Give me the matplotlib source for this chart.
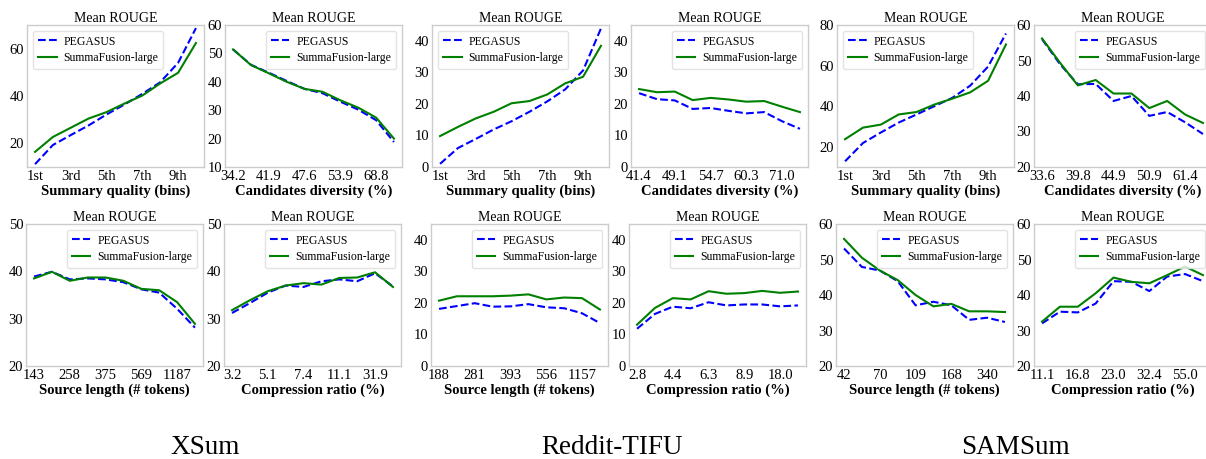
import matplotlib
matplotlib.use("Agg")
import matplotlib.pyplot as plt

plt.rcParams['font.family'] = ['Liberation Serif', 'DejaVu Serif']

W, H = 1206, 459

# ---------------- data ----------------
idx = list(range(10))

# XSum
xsum_quality_peg = [11.2, 19.3, 23.5, 27.6, 32.2, 36.4, 40.9, 45.8, 54.0, 68.7]
xsum_quality_sf = [16.4, 22.7, 26.6, 30.5, 33.2, 36.8, 40.2, 45.3, 49.8, 62.4]
xsum_div_peg = [51.4, 46.0, 43.2, 40.3, 37.5, 36.0, 33.0, 30.2, 26.5, 18.8]
xsum_div_sf = [51.4, 45.9, 43.0, 40.0, 37.5, 36.5, 33.5, 30.9, 27.4, 20.0]
xsum_len_peg = [38.9, 39.9, 38.3, 38.5, 38.3, 37.7, 36.2, 35.5, 32.1, 28.1]
xsum_len_sf = [38.5, 39.9, 38.0, 38.7, 38.7, 38.0, 36.3, 36.0, 33.5, 28.9]
xsum_comp_peg = [31.2, 33.3, 35.5, 37.0, 36.7, 37.9, 38.3, 37.9, 39.6, 36.8]
xsum_comp_sf = [31.8, 33.9, 35.8, 37.0, 37.5, 37.2, 38.6, 38.7, 39.8, 36.7]

# Reddit-TIFU
red_quality_peg = [1.0, 6.0, 8.9, 11.9, 14.5, 17.5, 20.8, 24.6, 30.6, 43.9]
red_quality_sf = [9.8, 12.7, 15.4, 17.5, 20.2, 20.9, 23.0, 26.5, 28.6, 38.4]
red_div_peg = [23.4, 21.5, 21.1, 18.4, 18.7, 17.8, 17.0, 17.4, 14.5, 12.1]
red_div_sf = [24.7, 23.7, 23.9, 21.2, 21.9, 21.4, 20.7, 20.9, 19.1, 17.4]
red_len_peg = [18.1, 19.0, 19.9, 18.8, 18.9, 19.6, 18.6, 18.3, 16.7, 13.6]
red_len_sf = [20.7, 22.1, 22.1, 22.1, 22.3, 22.7, 21.1, 21.7, 21.5, 17.9]
red_comp_peg = [11.8, 16.5, 18.8, 18.3, 20.2, 19.2, 19.5, 19.5, 18.9, 19.2]
red_comp_sf = [13.1, 18.4, 21.5, 21.1, 23.7, 22.9, 23.1, 23.8, 23.2, 23.6]

# SAMSum
sam_quality_peg = [12.8, 21.8, 27.0, 31.9, 35.9, 40.0, 44.1, 50.1, 59.5, 75.8]
sam_quality_sf = [23.7, 29.4, 30.9, 35.9, 37.1, 40.8, 43.7, 46.8, 52.5, 70.4]
sam_div_peg = [56.0, 49.0, 43.3, 43.4, 38.6, 40.0, 34.4, 35.5, 32.6, 29.3]
sam_div_sf = [56.2, 49.4, 43.0, 44.5, 40.7, 40.7, 36.6, 38.6, 34.8, 32.4]
sam_len_peg = [53.1, 47.9, 46.9, 43.9, 37.1, 38.1, 37.1, 33.0, 33.6, 32.4]
sam_len_sf = [55.8, 50.5, 46.9, 44.2, 40.0, 36.8, 37.5, 35.4, 35.4, 35.2]
sam_comp_peg = [32.0, 35.3, 35.1, 37.6, 43.9, 43.7, 41.1, 45.2, 45.9, 43.9]
sam_comp_sf = [32.5, 36.7, 36.7, 40.5, 44.9, 43.7, 43.3, 45.6, 48.0, 45.6]

# tick labels
quality_ticks = ['1st', '3rd', '5th', '7th', '9th']
xsum_div_ticks = ['34.2', '41.9', '47.6', '53.9', '68.8']
red_div_ticks = ['41.4', '49.1', '54.7', '60.3', '71.0']
sam_div_ticks = ['33.6', '39.8', '44.9', '50.9', '61.4']
xsum_len_ticks = ['143', '258', '375', '569', '1187']
red_len_ticks = ['188', '281', '393', '556', '1157']
sam_len_ticks = ['42', '70', '109', '168', '340']
xsum_comp_ticks = ['3.2', '5.1', '7.4', '11.1', '31.9']
red_comp_ticks = ['2.8', '4.4', '6.3', '8.9', '18.0']
sam_comp_ticks = ['11.1', '16.8', '23.0', '32.4', '55.0']

datasets = ['XSum', 'Reddit-TIFU', 'SAMSum']
series_names = ['PEGASUS', 'SummaFusion-large']

fig = plt.figure(figsize=(W / 100, H / 100), dpi=100)


def add_ax(left, top, right, bottom):
    return fig.add_axes([left / W, 1 - bottom / H, (right - left) / W, (bottom - top) / H])


def panel(ax, peg, sf, ticks, xlabel, ylim, yticks, loc):
    ax.plot(idx, peg, linestyle='--', color='#0000ff', lw=1.5, label=series_names[0])
    ax.plot(idx, sf, linestyle='-', color='#008000', lw=1.5, label=series_names[1])
    ax.set_xticks([0, 2, 4, 6, 8])
    ax.set_xticklabels(ticks)
    ax.set_ylim(*ylim)
    ax.set_yticks(yticks)
    ax.tick_params(length=0, labelsize=10.5, pad=2)
    ax.set_xlabel(xlabel, fontsize=10.5, fontweight='bold', labelpad=1)
    ax.set_title('Mean ROUGE', fontsize=10, pad=2)
    for s in ax.spines.values():
        s.set_color('#cccccc')
        s.set_linewidth(1.0)
    ax.legend(loc=loc, fontsize=8.5, handlelength=1.6, handletextpad=0.6,
              borderpad=0.4, labelspacing=0.4, framealpha=0.8, edgecolor='#dddddd')


top_row = (25, 167)
bot_row = (224, 366)
lefts_top = [27, 225, 432, 631, 837, 1034]
lefts_bot = [26, 224, 431, 629, 836, 1034]
pw = 177

qlab = 'Summary quality (bins)'
dlab = 'Candidates diversity (%)'
llab = 'Source length (# tokens)'
clab = 'Compression ratio (%)'

top_specs = [
    (xsum_quality_peg, xsum_quality_sf, quality_ticks, qlab, (10, 70), [20, 40, 60], 'upper left'),
    (xsum_div_peg, xsum_div_sf, xsum_div_ticks, dlab, (10, 60), [10, 20, 30, 40, 50, 60], 'upper right'),
    (red_quality_peg, red_quality_sf, quality_ticks, qlab, (0, 45), [0, 10, 20, 30, 40], 'upper left'),
    (red_div_peg, red_div_sf, red_div_ticks, dlab, (0, 45), [0, 10, 20, 30, 40], 'upper right'),
    (sam_quality_peg, sam_quality_sf, quality_ticks, qlab, (10, 80), [20, 40, 60, 80], 'upper left'),
    (sam_div_peg, sam_div_sf, sam_div_ticks, dlab, (20, 60), [20, 30, 40, 50, 60], 'upper right'),
]
bot_specs = [
    (xsum_len_peg, xsum_len_sf, xsum_len_ticks, llab, (20, 50), [20, 30, 40, 50], 'upper right'),
    (xsum_comp_peg, xsum_comp_sf, xsum_comp_ticks, clab, (20, 50), [20, 30, 40, 50], 'upper right'),
    (red_len_peg, red_len_sf, red_len_ticks, llab, (0, 45), [0, 10, 20, 30, 40], 'upper right'),
    (red_comp_peg, red_comp_sf, red_comp_ticks, clab, (0, 45), [0, 10, 20, 30, 40], 'upper right'),
    (sam_len_peg, sam_len_sf, sam_len_ticks, llab, (20, 60), [20, 30, 40, 50, 60], 'upper right'),
    (sam_comp_peg, sam_comp_sf, sam_comp_ticks, clab, (20, 60), [20, 30, 40, 50, 60], 'upper right'),
]

for l, spec in zip(lefts_top, top_specs):
    ax = add_ax(l, top_row[0], l + pw, top_row[1])
    panel(ax, *spec)
for l, spec in zip(lefts_bot, bot_specs):
    ax = add_ax(l, bot_row[0], l + pw, bot_row[1])
    panel(ax, *spec)

for name, cx in zip(datasets, [205, 612, 1015]):
    fig.text(cx / W, 1 - 447 / H, name, ha='center', va='center', fontsize=19.5)

fig.savefig('out.png', dpi=100)
